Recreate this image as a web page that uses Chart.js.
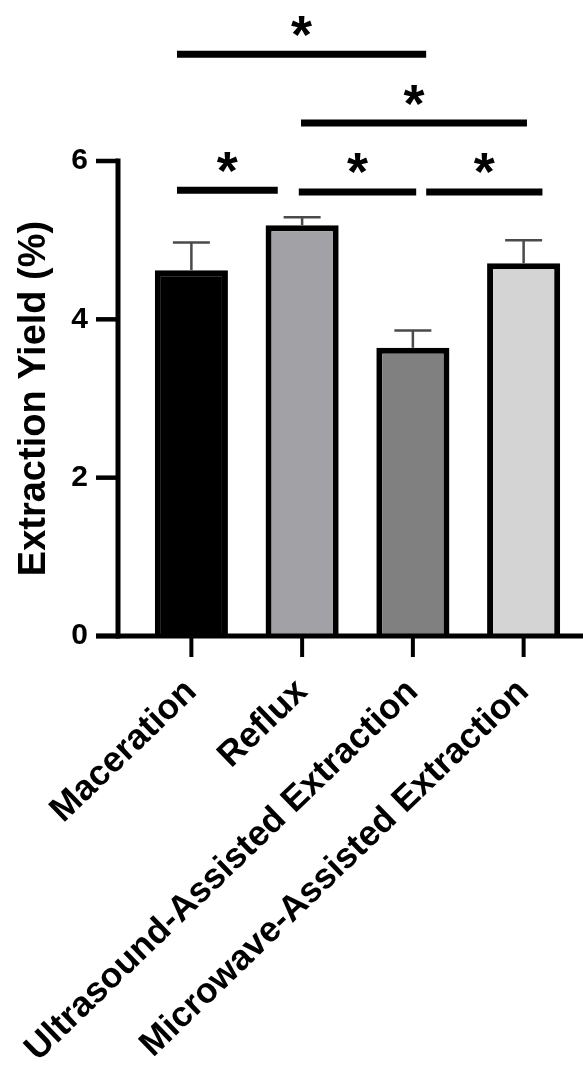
<!DOCTYPE html>
<html>
<head>
<meta charset="utf-8">
<script src="https://cdn.jsdelivr.net/npm/chart.js@4"></script>
<style>
  html, body { margin: 0; padding: 0; background: #ffffff; }
  #wrap { width: 583px; height: 1067px; position: relative; }
</style>
</head>
<body>
<div id="wrap"><canvas id="chart"></canvas></div>
<script>
// Extraction yield per method (mean and one-sided SD)
const categories = ['Maceration', 'Reflux', 'Ultrasound-Assisted Extraction', 'Microwave-Assisted Extraction'];
const yieldMeans = [4.62, 5.19, 3.64, 4.71];
const yieldSD = [0.35, 0.10, 0.22, 0.29];
const barColors = ['#000000', '#a2a1a6', '#808080', '#d4d4d4'];
const yTicks = [0, 2, 4, 6];

// Significance brackets: start/end in category units, height in % yield
const sigFrom = [-0.13, 0.97, 2.12, 0.99, -0.13];
const sigTo = [0.78, 2.03, 3.17, 3.03, 2.12];
const sigLevel = [5.63, 5.61, 5.61, 6.48, 7.35];
const sigMark = ['*', '*', '*', '*', '*'];

const FONT = "'Liberation Sans', Arial, sans-serif";

const axesAndMarks = {
  id: 'axesAndMarks',
  afterDatasetsDraw(chart) {
    const ctx = chart.ctx;
    const x = chart.scales.x, y = chart.scales.y;
    const area = chart.chartArea;
    const y0 = y.getPixelForValue(0);
    const yTop = y.getPixelForValue(yTicks[yTicks.length - 1]);
    const axisX = area.left - 18;
    ctx.save();

    // error bars (upper only)
    ctx.strokeStyle = '#4a4a4a';
    ctx.lineWidth = 2.5;
    yieldMeans.forEach((m, i) => {
      const cx = x.getPixelForValue(i);
      const top = y.getPixelForValue(m + yieldSD[i]);
      ctx.beginPath();
      ctx.moveTo(cx, y.getPixelForValue(m));
      ctx.lineTo(cx, top);
      ctx.moveTo(cx - 18.5, top);
      ctx.lineTo(cx + 18.5, top);
      ctx.stroke();
    });

    // axis lines
    ctx.strokeStyle = '#000000';
    ctx.lineCap = 'butt';
    ctx.lineWidth = 5;
    ctx.beginPath();
    ctx.moveTo(axisX, yTop - 2.5);
    ctx.lineTo(axisX, y0 + 2.5);
    ctx.stroke();
    ctx.beginPath();
    ctx.moveTo(axisX - 22, y0);
    ctx.lineTo(chart.width, y0);
    ctx.stroke();

    // y tick marks
    ctx.lineWidth = 4.5;
    yTicks.forEach(v => {
      const py = y.getPixelForValue(v);
      ctx.beginPath();
      ctx.moveTo(axisX - 22, py);
      ctx.lineTo(axisX, py);
      ctx.stroke();
    });

    // x tick marks
    ctx.lineWidth = 4;
    categories.forEach((c, i) => {
      const px = x.getPixelForValue(i);
      ctx.beginPath();
      ctx.moveTo(px, y0);
      ctx.lineTo(px, y0 + 21);
      ctx.stroke();
    });

    // significance brackets
    ctx.lineWidth = 7;
    ctx.fillStyle = '#000000';
    ctx.font = 'bold 54px ' + FONT;
    ctx.textAlign = 'center';
    ctx.textBaseline = 'alphabetic';
    sigLevel.forEach((lv, i) => {
      const x1 = x.getPixelForValue(sigFrom[i]);
      const x2 = x.getPixelForValue(sigTo[i]);
      const py = y.getPixelForValue(lv);
      ctx.beginPath();
      ctx.moveTo(x1, py);
      ctx.lineTo(x2, py);
      ctx.stroke();
      const m = ctx.measureText(sigMark[i]);
      const cy = py - 28;
      const base = cy + (m.actualBoundingBoxAscent - m.actualBoundingBoxDescent) / 2;
      ctx.fillText(sigMark[i], (x1 + x2) / 2, base);
    });
    ctx.restore();
  }
};

new Chart(document.getElementById('chart'), {
  type: 'bar',
  data: {
    labels: categories,
    datasets: [{
      data: yieldMeans,
      backgroundColor: barColors,
      borderColor: '#000000',
      borderWidth: 6,
      borderSkipped: 'bottom',
      categoryPercentage: 1,
      barPercentage: 0.66
    }]
  },
  options: {
    responsive: true,
    maintainAspectRatio: false,
    animation: false,
    events: [],
    layout: { padding: { top: 161, right: 4, left: 0, bottom: 0 } },
    plugins: { legend: { display: false }, tooltip: { enabled: false } },
    scales: {
      x: {
        type: 'category',
        offset: true,
        border: { display: false },
        grid: { display: false, drawTicks: false },
        ticks: {
          color: '#000000',
          autoSkip: false,
          minRotation: 44,
          maxRotation: 44,
          padding: 35,
          font: { family: FONT, size: 35.5, weight: 'bold' }
        },
        afterFit(s) {
          s.height = 431;
          s.paddingLeft = 0;
          s.paddingRight = 0;
        }
      },
      y: {
        min: 0,
        max: 6,
        border: { display: false },
        grid: { display: false, drawTicks: false },
        afterBuildTicks(s) { s.ticks = yTicks.map(v => ({ value: v })); },
        ticks: {
          color: '#000000',
          padding: 48,
          font: { family: FONT, size: 30, weight: 'bold' }
        },
        title: {
          display: true,
          text: 'Extraction Yield (%)',
          color: '#000000',
          padding: { top: 12, bottom: 0 },
          font: { family: FONT, size: 38, weight: 'bold' }
        },
        afterFit(s) {
          s.width = 136;
          s.paddingTop = 0;
          s.paddingBottom = 0;
        }
      }
    }
  },
  plugins: [axesAndMarks]
});
</script>
</body>
</html>
